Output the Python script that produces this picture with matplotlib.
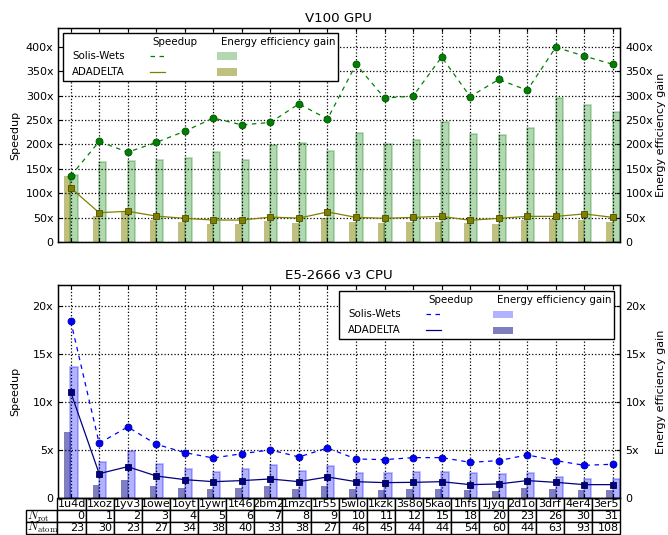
import matplotlib
matplotlib.use("Agg")
import matplotlib.pyplot as plt
from matplotlib.lines import Line2D
from matplotlib.patches import Rectangle
import numpy as np

# Benchmark complexes and their ligand sizes
pdb_ids = ["1u4d", "1xoz", "1yv3", "1owe", "1oyt", "1ywr", "1t46", "2bm2", "1mzc", "1r55",
           "5wlo", "1kzk", "3s8o", "5kao", "1hfs", "1jyq", "2d1o", "3drf", "4er4", "3er5"]
n_rot = [0, 1, 2, 3, 4, 5, 6, 7, 8, 9, 10, 11, 12, 15, 18, 20, 23, 26, 30, 31]
n_atom = [23, 30, 23, 27, 34, 38, 40, 33, 38, 27, 46, 45, 44, 44, 54, 60, 44, 63, 93, 108]
row_labels = [r"$N_\mathrm{rot}$", r"$N_\mathrm{atom}$"]

# V100 GPU
gpu_speedup_sw = [135, 206, 184, 204, 227, 254, 240, 245, 283, 252,
                  364, 295, 299, 379, 298, 333, 311, 399, 381, 364]
gpu_speedup_ad = [111, 60, 63, 53, 48.5, 45, 45, 51, 49, 61.5,
                  50.5, 48.5, 50.5, 52.5, 44.5, 48.5, 52.5, 52.5, 57.5, 50.5]
gpu_energy_sw = [138, 164, 166, 167.5, 172, 184.5, 167.5, 199.5, 203, 186.5,
                 223.5, 200, 209, 246, 221, 219, 234.5, 296, 281, 266]
gpu_energy_ad = [136, 52.5, 63, 45, 40, 37.5, 37, 44, 39, 48.5,
                 40, 38, 40, 41, 38, 37, 45, 46.5, 46, 42]

# E5-2666 v3 CPU
cpu_speedup_sw = [18.47, 5.72, 7.42, 5.62, 4.75, 4.19, 4.64, 5.03, 4.30, 5.23,
                  4.09, 4.02, 4.23, 4.23, 3.74, 3.92, 4.51, 3.92, 3.43, 3.54]
cpu_speedup_ad = [11.06, 2.56, 3.29, 2.32, 1.94, 1.73, 1.84, 2.01, 1.73, 2.22,
                  1.73, 1.63, 1.66, 1.73, 1.42, 1.49, 1.84, 1.66, 1.42, 1.42]
cpu_energy_sw = [13.69, 3.74, 4.89, 3.60, 3.05, 2.77, 3.05, 3.50, 2.88, 3.33,
                 2.67, 2.67, 2.77, 2.74, 2.67, 2.53, 2.67, 2.25, 1.98, 1.98]
cpu_energy_ad = [6.90, 1.35, 1.90, 1.25, 1.07, 0.97, 1.07, 1.25, 1.00, 1.25,
                 1.00, 0.87, 1.00, 1.00, 0.87, 0.80, 1.10, 1.00, 0.87, 0.90]

gpu_ticks = [0, 50, 100, 150, 200, 250, 300, 350, 400]
cpu_ticks = [0, 5, 10, 15, 20]

plt.rcParams["mathtext.fontset"] = "cm"
plt.rcParams["font.family"] = ["DejaVu Sans"]

W, H = 668, 535
fig = plt.figure(figsize=(W / 100, H / 100), dpi=100)


def fx(px):
    return px / W


def fy(py):
    return 1 - py / H


AX_L, AX_R = 57.5, 620.0
AX_W = AX_R - AX_L
ax_top = fig.add_axes([fx(AX_L), fy(242), AX_W / W, (242 - 28) / H])
ax_bot = fig.add_axes([fx(AX_L), fy(498.3), AX_W / W, (498.3 - 285) / H])


def xfmt(v):
    return "0" if v == 0 else f"{v:g}x"


def panel(ax, title, sp_sw, sp_ad, en_sw, en_ad, c_sw, c_ad, c_sw_edge, c_ad_edge, ymax, ticks):
    x = np.arange(len(pdb_ids))
    ax.bar(x - 0.115, en_ad, width=0.235, color=c_ad, alpha=0.5, linewidth=0, zorder=1)
    ax.bar(x + 0.12, en_sw, width=0.25, color=c_sw, alpha=0.3,
           edgecolor=(*matplotlib.colors.to_rgb(c_sw), 0.1), linewidth=1.2, zorder=1)
    ax.plot(x, sp_sw, linestyle="--", dashes=(3.6, 3.6), color=c_sw, lw=0.9,
            marker="o", ms=5, mfc=c_sw, mec=c_sw_edge, mew=0.6, zorder=3)
    ax.plot(x, sp_ad, linestyle="-", color=c_ad, lw=0.9,
            marker="s", ms=5, mfc=c_ad, mec=c_ad_edge, mew=0.6, zorder=3)
    ax.set_xlim(-0.46, 19.25)
    ax.set_ylim(0, ymax)
    ax.set_xticks(x)
    ax.set_xticklabels([])
    ax.set_yticks(ticks)
    ax.set_yticklabels([xfmt(t) for t in ticks], fontsize=8)
    ax.grid(True, linestyle=":", color="k", linewidth=0.9, zorder=2)
    ax.set_axisbelow("line")
    ax.tick_params(direction="in", length=3, width=0.8, top=True, bottom=True,
                   left=True, right=False, pad=3)
    ax.set_ylabel("Speedup", fontsize=8)
    ax.yaxis.set_label_coords(-0.067, 0.5)
    ax.set_title(title, fontsize=9.6, pad=4)
    for s in ax.spines.values():
        s.set_linewidth(1.0)

    ax2 = ax.twinx()
    ax2.set_ylim(0, ymax)
    ax2.set_yticks(ticks)
    ax2.set_yticklabels([xfmt(t) for t in ticks], fontsize=8)
    ax2.tick_params(direction="in", length=3, width=0.8, pad=4)
    ax2.set_ylabel("Energy efficiency gain", fontsize=8)
    ax2.yaxis.set_label_coords(1.0635, 0.5)
    return ax2


def key(left, top, c_sw, c_ad):
    fs = 7.4
    box = Rectangle((fx(left), fy(top + 48)), 275 / W, 48 / H, transform=fig.transFigure,
                    facecolor="white", edgecolor="black", linewidth=1.0, zorder=20)
    fig.add_artist(box)
    fig.text(fx(left + 89), fy(top + 9), "Speedup", fontsize=fs, va="center", ha="left", zorder=21)
    fig.text(fx(left + 158), fy(top + 9), "Energy efficiency gain", fontsize=fs,
             va="center", ha="left", zorder=21)
    for dy, name in [(23, "Solis-Wets"), (39, "ADADELTA")]:
        fig.text(fx(left + 9), fy(top + dy), name, fontsize=fs, va="center", ha="left", zorder=21)
    fig.add_artist(Line2D([fx(left + 87), fx(left + 102)], [fy(top + 23)] * 2,
                          transform=fig.transFigure, color=c_sw, lw=0.9,
                          linestyle="--", dashes=(3.6, 3.6), zorder=21))
    fig.add_artist(Line2D([fx(left + 87), fx(left + 102)], [fy(top + 39)] * 2,
                          transform=fig.transFigure, color=c_ad, lw=0.9, zorder=21))
    fig.add_artist(Rectangle((fx(left + 154), fy(top + 26.5)), 20 / W, 7 / H,
                             transform=fig.transFigure, facecolor=c_sw, alpha=0.3,
                             linewidth=0, zorder=21))
    fig.add_artist(Rectangle((fx(left + 154), fy(top + 42.5)), 20 / W, 7 / H,
                             transform=fig.transFigure, facecolor=c_ad, alpha=0.5,
                             linewidth=0, zorder=21))


panel(ax_top, "V100 GPU", gpu_speedup_sw, gpu_speedup_ad, gpu_energy_sw, gpu_energy_ad,
      "#008000", "#808000", "#004d00", "#4d4d00", 438.5, gpu_ticks)
panel(ax_bot, "E5-2666 v3 CPU", cpu_speedup_sw, cpu_speedup_ad, cpu_energy_sw, cpu_energy_ad,
      "#0000ff", "#000080", "#00009a", "#00004d", 22.18, cpu_ticks)

key(63, 33, "#008000", "#808000")
key(339, 291, "#0000ff", "#000080")

# Ligand table under the CPU panel (cell sizes in axes units; row labels sit left of the grid)
ax_h = 498.3 - 285
lab_w = 32.0 / AX_W
col_w = 1.0 / len(pdb_ids)
tab_h = 35.5 / ax_h
row_h = tab_h / 3
tbl = ax_bot.table(cellText=[[str(v) for v in n_rot], [str(v) for v in n_atom]],
                   colLabels=pdb_ids, cellLoc="right", colLoc="center",
                   bbox=[0, -tab_h, 1, tab_h])
for i, lab in enumerate(row_labels):
    tbl.add_cell(i + 1, -1, width=lab_w, height=row_h, text=lab, loc="left")
tbl.auto_set_font_size(False)
tbl.set_fontsize(8)
for (r, c), cell in tbl.get_celld().items():
    cell.set_width(lab_w if c == -1 else col_w)
    cell.set_height(row_h)
    cell.set_linewidth(1.0)
    cell.PAD = 0.05
    if c == -1:
        cell.get_text().set_fontsize(9)

fig.savefig("out.png", dpi=100)
